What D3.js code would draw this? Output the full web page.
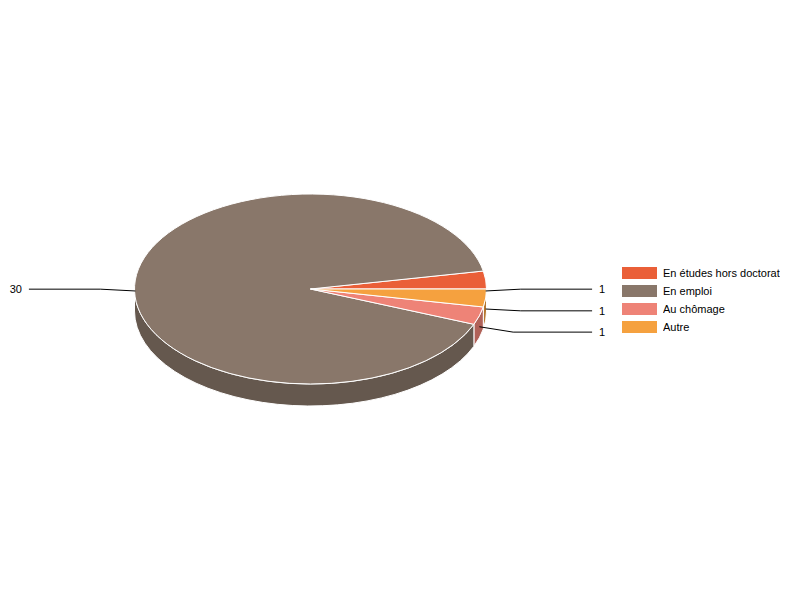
<!DOCTYPE html>
<html>
<head>
<meta charset="utf-8">
<script src="https://cdn.jsdelivr.net/npm/d3@7"></script>
<style>
  html, body { margin: 0; padding: 0; background: #fff; }
  text { font-family: "Liberation Sans", Arial, sans-serif; font-size: 11px; fill: #000; opacity: 0.999; }
</style>
</head>
<body>
<svg id="chart" width="800" height="600"></svg>
<script>
const categories = ["En études hors doctorat", "En emploi", "Au chômage", "Autre"];
const values = [1, 30, 1, 1];
const colors = ["#ea5f38", "#89776a", "#ee8377", "#f5a13f"];

const cx = 310.5, cy = 289, rx = 176, ry = 95, depth = 22;

const svg = d3.select("#chart");
const color = d3.scaleOrdinal().domain(categories).range(colors);

// slices run counter-clockwise from 3 o'clock, so angles go down from pi/2
const slices = d3.pie()
  .sort(null)
  .startAngle(Math.PI / 2)
  .endAngle(Math.PI / 2 - 2 * Math.PI)(values)
  .map((d, i) => ({ ...d, name: categories[i], mid: (d.startAngle + d.endAngle) / 2 }));

const px = (a, k = 1) => cx + rx * k * Math.sin(a);
const py = (a, k = 1) => cy - ry * k * Math.cos(a);

function topPath(d) {
  const large = Math.abs(d.endAngle - d.startAngle) > Math.PI ? 1 : 0;
  return `M${cx},${cy}L${px(d.startAngle)},${py(d.startAngle)}` +
    `A${rx},${ry} 0 ${large} 0 ${px(d.endAngle)},${py(d.endAngle)}Z`;
}

// outer wall, only the part facing the viewer (-pi/2 down to -3pi/2)
function wallPath(d) {
  const s = Math.min(d.startAngle, -Math.PI / 2);
  const e = Math.max(d.endAngle, -3 * Math.PI / 2);
  if (s <= e) return null;
  return `M${px(s)},${py(s)}A${rx},${ry} 0 0 0 ${px(e)},${py(e)}` +
    `L${px(e)},${py(e) + depth}A${rx},${ry} 0 0 1 ${px(s)},${py(s) + depth}Z`;
}

const walls = slices.filter(d => wallPath(d));

svg.append("g").selectAll("path")
  .data(walls.slice().reverse())
  .join("path")
  .attr("d", wallPath)
  .attr("fill", d => {
    const c = d3.rgb(color(d.name));
    return d3.rgb(c.r * 0.74, c.g * 0.74, c.b * 0.74).formatHex();
  })
  .attr("stroke", "#fff")
  .attr("stroke-width", 1)
  .attr("stroke-linejoin", "round");

svg.append("g").selectAll("path")
  .data(slices)
  .join("path")
  .attr("d", topPath)
  .attr("fill", d => color(d.name))
  .attr("stroke", "#fff")
  .attr("stroke-width", 1)
  .attr("stroke-linejoin", "round");

// leader lines and value labels
const labels = svg.append("g");
slices.forEach(d => {
  const side = Math.sin(d.mid) >= 0 ? 1 : -1;
  const elbowY = py(d.mid, 1.2) + depth / 2;
  const line = d3.line();
  labels.append("path")
    .attr("d", line([
      [px(d.mid), py(d.mid) + depth / 2],
      [px(d.mid, 1.2), elbowY],
      [cx + side * rx * 1.6, elbowY]
    ]))
    .attr("fill", "none")
    .attr("stroke", "#000")
    .attr("stroke-width", 1);
  labels.append("text")
    .attr("x", cx + side * (rx * 1.6 + 7))
    .attr("y", elbowY)
    .attr("dy", "0.35em")
    .attr("text-anchor", side > 0 ? "start" : "end")
    .text(d.data);
});

// legend
const legendY = d3.scalePoint().domain(categories).range([273, 327]);
const legend = svg.append("g").selectAll("g")
  .data(categories)
  .join("g")
  .attr("transform", d => `translate(622,${legendY(d)})`);

legend.append("rect")
  .attr("x", 0)
  .attr("y", -6)
  .attr("width", 35)
  .attr("height", 12)
  .attr("fill", d => color(d));

legend.append("text")
  .attr("x", 41)
  .attr("dy", "0.35em")
  .text(d => d);
</script>
</body>
</html>
